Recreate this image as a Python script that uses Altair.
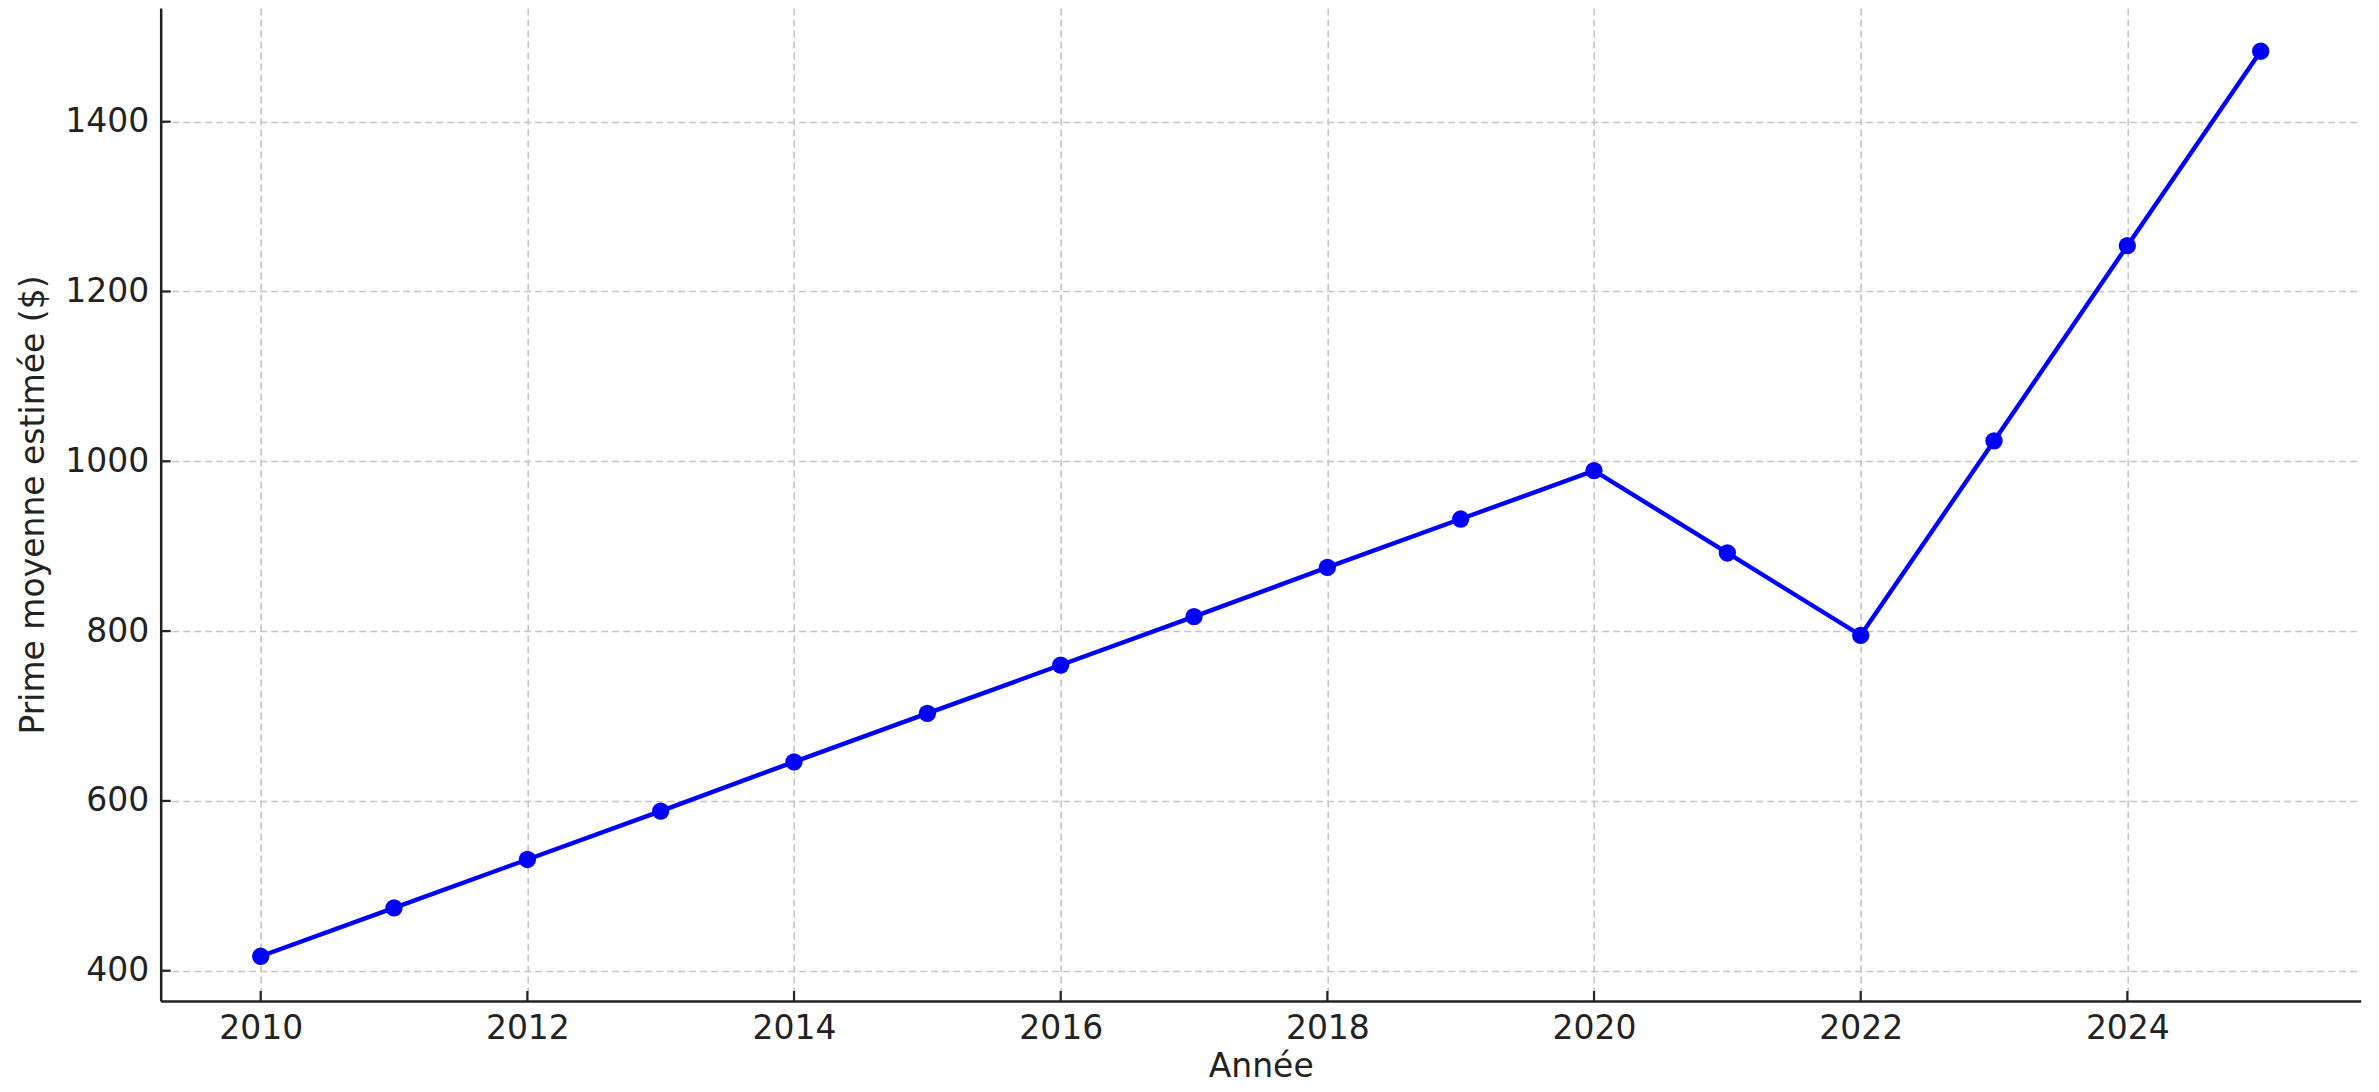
import altair as alt
import pandas as pd

# ---- data ----
years = [2010, 2011, 2012, 2013, 2014, 2015, 2016, 2017,
         2018, 2019, 2020, 2021, 2022, 2023, 2024, 2025]
premiums = [417, 474, 531, 588, 646, 703, 760, 817,
            875, 932, 989, 892, 795, 1024, 1254, 1483]
x_ticks = [2010, 2012, 2014, 2016, 2018, 2020, 2022, 2024]
y_ticks = [400, 600, 800, 1000, 1200, 1400]

x_title = "Année"
y_title = "Prime moyenne estimée ($)"

W, H = 2200, 993
TICK_LEN = 10
AX_COLOR = "#222222"
BLUE = "#0000ff"

df = pd.DataFrame({"Année": years, "Prime": premiums})
xt_df = pd.DataFrame({"Année": x_ticks})
yt_df = pd.DataFrame({"Prime": y_ticks})

xscale = alt.Scale(domain=[2009.25, 2025.75], nice=False, zero=False)
yscale = alt.Scale(domain=[364.3, 1533.9], nice=False, zero=False)

x_axis = alt.Axis(values=x_ticks, format="d", title=x_title, grid=True,
                  ticks=False, labelPadding=12, titlePadding=5,
                  labelFlush=False)
y_axis = alt.Axis(values=y_ticks, format="d", title=y_title, grid=True,
                  ticks=False, labelPadding=12, titlePadding=14)

base = alt.Chart(df)

line = base.mark_line(color=BLUE, strokeWidth=4.4).encode(
    x=alt.X("Année:Q", scale=xscale, axis=x_axis),
    y=alt.Y("Prime:Q", scale=yscale, axis=y_axis),
)

points = base.mark_circle(color=BLUE, size=300, opacity=1).encode(
    x=alt.X("Année:Q", scale=xscale),
    y=alt.Y("Prime:Q", scale=yscale),
)

x_tick_marks = alt.Chart(xt_df).mark_rule(color=AX_COLOR, strokeWidth=2.2).encode(
    x=alt.X("Année:Q", scale=xscale),
    y=alt.value(H),
    y2=alt.value(H - TICK_LEN),
)

y_tick_marks = alt.Chart(yt_df).mark_rule(color=AX_COLOR, strokeWidth=2.2).encode(
    y=alt.Y("Prime:Q", scale=yscale),
    x=alt.value(0),
    x2=alt.value(TICK_LEN),
)

chart = (
    alt.layer(line, points, x_tick_marks, y_tick_marks)
    .properties(
        width=W,
        height=H,
        autosize=alt.AutoSizeParams(type="none"),
        padding={"left": 152.7, "top": 0, "right": 8, "bottom": 88},
        background="white",
    )
    .configure_view(stroke=None)
    .configure_axis(
        domainColor=AX_COLOR,
        domainWidth=2.5,
        gridColor="#c4c4c4",
        gridDash=[7, 4],
        gridWidth=1.6,
        labelFont="DejaVu Sans",
        labelFontSize=33,
        labelColor=AX_COLOR,
        titleFont="DejaVu Sans",
        titleFontSize=33,
        titleFontWeight="normal",
        titleColor=AX_COLOR,
    )
)

chart.save("out.html", embed_options={"renderer": "svg", "actions": False})
